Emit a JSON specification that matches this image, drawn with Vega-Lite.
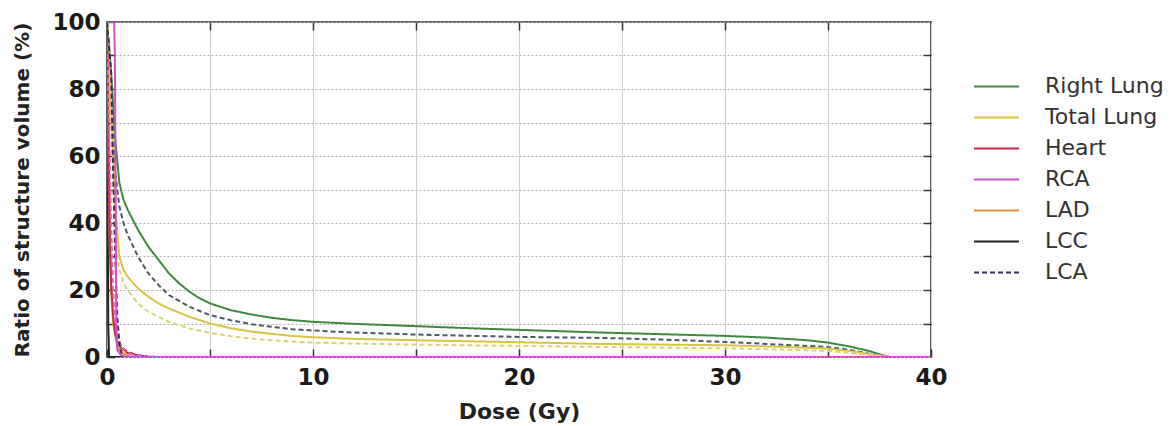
{
  "$schema": "https://vega.github.io/schema/vega-lite/v6.json",
  "autosize": {"type": "none"},
  "padding": {"left": 107, "top": 22, "right": 241, "bottom": 69},
  "width": 824,
  "height": 335,
  "background": "white",
  "config": {
    "font": "DejaVu Sans",
    "view": {"stroke": "#333", "strokeWidth": 1.6},
    "axis": {"domain": false, "labelFont": "DejaVu Sans", "titleFont": "DejaVu Sans"}
  },
  "data": {"values": [
    {"s":"RL","c":"Right Lung","d":"solid","x":0,"y":100},{"s":"RL","c":"Right Lung","d":"solid","x":0.2,"y":85},{"s":"RL","c":"Right Lung","d":"solid","x":0.4,"y":65},{"s":"RL","c":"Right Lung","d":"solid","x":0.6,"y":52},{"s":"RL","c":"Right Lung","d":"solid","x":0.8,"y":47},{"s":"RL","c":"Right Lung","d":"solid","x":1,"y":44},{"s":"RL","c":"Right Lung","d":"solid","x":1.5,"y":38},{"s":"RL","c":"Right Lung","d":"solid","x":2,"y":33},{"s":"RL","c":"Right Lung","d":"solid","x":2.5,"y":29},{"s":"RL","c":"Right Lung","d":"solid","x":3,"y":25},{"s":"RL","c":"Right Lung","d":"solid","x":3.5,"y":22},{"s":"RL","c":"Right Lung","d":"solid","x":4,"y":19.5},{"s":"RL","c":"Right Lung","d":"solid","x":4.5,"y":17.5},{"s":"RL","c":"Right Lung","d":"solid","x":5,"y":16},{"s":"RL","c":"Right Lung","d":"solid","x":6,"y":14},{"s":"RL","c":"Right Lung","d":"solid","x":7,"y":12.7},{"s":"RL","c":"Right Lung","d":"solid","x":8,"y":11.7},{"s":"RL","c":"Right Lung","d":"solid","x":9,"y":11},{"s":"RL","c":"Right Lung","d":"solid","x":10,"y":10.5},{"s":"RL","c":"Right Lung","d":"solid","x":12,"y":9.9},{"s":"RL","c":"Right Lung","d":"solid","x":15,"y":9.2},{"s":"RL","c":"Right Lung","d":"solid","x":18,"y":8.5},{"s":"RL","c":"Right Lung","d":"solid","x":20,"y":8.1},{"s":"RL","c":"Right Lung","d":"solid","x":24,"y":7.3},{"s":"RL","c":"Right Lung","d":"solid","x":27,"y":6.8},{"s":"RL","c":"Right Lung","d":"solid","x":30,"y":6.3},{"s":"RL","c":"Right Lung","d":"solid","x":32,"y":5.8},{"s":"RL","c":"Right Lung","d":"solid","x":34,"y":5},{"s":"RL","c":"Right Lung","d":"solid","x":35,"y":4.3},{"s":"RL","c":"Right Lung","d":"solid","x":36,"y":3.2},{"s":"RL","c":"Right Lung","d":"solid","x":37,"y":1.8},{"s":"RL","c":"Right Lung","d":"solid","x":37.5,"y":0.8},{"s":"RL","c":"Right Lung","d":"solid","x":38,"y":0},{"s":"RL","c":"Right Lung","d":"solid","x":40,"y":0},
    {"s":"RL2","c":"Right Lung 2","d":"dash","x":0,"y":100},{"s":"RL2","c":"Right Lung 2","d":"dash","x":0.2,"y":80},{"s":"RL2","c":"Right Lung 2","d":"dash","x":0.4,"y":55},{"s":"RL2","c":"Right Lung 2","d":"dash","x":0.6,"y":45},{"s":"RL2","c":"Right Lung 2","d":"dash","x":0.8,"y":40},{"s":"RL2","c":"Right Lung 2","d":"dash","x":1,"y":36.5},{"s":"RL2","c":"Right Lung 2","d":"dash","x":1.5,"y":30},{"s":"RL2","c":"Right Lung 2","d":"dash","x":2,"y":25},{"s":"RL2","c":"Right Lung 2","d":"dash","x":2.5,"y":21.5},{"s":"RL2","c":"Right Lung 2","d":"dash","x":3,"y":18.5},{"s":"RL2","c":"Right Lung 2","d":"dash","x":4,"y":15},{"s":"RL2","c":"Right Lung 2","d":"dash","x":5,"y":12.5},{"s":"RL2","c":"Right Lung 2","d":"dash","x":6,"y":11},{"s":"RL2","c":"Right Lung 2","d":"dash","x":7,"y":9.8},{"s":"RL2","c":"Right Lung 2","d":"dash","x":8,"y":9},{"s":"RL2","c":"Right Lung 2","d":"dash","x":9,"y":8.3},{"s":"RL2","c":"Right Lung 2","d":"dash","x":10,"y":7.9},{"s":"RL2","c":"Right Lung 2","d":"dash","x":12,"y":7.3},{"s":"RL2","c":"Right Lung 2","d":"dash","x":15,"y":6.7},{"s":"RL2","c":"Right Lung 2","d":"dash","x":20,"y":6},{"s":"RL2","c":"Right Lung 2","d":"dash","x":24,"y":5.7},{"s":"RL2","c":"Right Lung 2","d":"dash","x":27,"y":5.2},{"s":"RL2","c":"Right Lung 2","d":"dash","x":30,"y":4.5},{"s":"RL2","c":"Right Lung 2","d":"dash","x":33,"y":3.6},{"s":"RL2","c":"Right Lung 2","d":"dash","x":35,"y":3},{"s":"RL2","c":"Right Lung 2","d":"dash","x":36,"y":2.2},{"s":"RL2","c":"Right Lung 2","d":"dash","x":37,"y":1},{"s":"RL2","c":"Right Lung 2","d":"dash","x":38,"y":0},{"s":"RL2","c":"Right Lung 2","d":"dash","x":40,"y":0},
    {"s":"TL","c":"Total Lung","d":"solid","x":0,"y":100},{"s":"TL","c":"Total Lung","d":"solid","x":0.2,"y":75},{"s":"TL","c":"Total Lung","d":"solid","x":0.4,"y":45},{"s":"TL","c":"Total Lung","d":"solid","x":0.6,"y":30},{"s":"TL","c":"Total Lung","d":"solid","x":0.8,"y":26},{"s":"TL","c":"Total Lung","d":"solid","x":1,"y":24},{"s":"TL","c":"Total Lung","d":"solid","x":1.5,"y":20.5},{"s":"TL","c":"Total Lung","d":"solid","x":2,"y":18},{"s":"TL","c":"Total Lung","d":"solid","x":2.5,"y":16},{"s":"TL","c":"Total Lung","d":"solid","x":3,"y":14.5},{"s":"TL","c":"Total Lung","d":"solid","x":4,"y":12},{"s":"TL","c":"Total Lung","d":"solid","x":5,"y":10},{"s":"TL","c":"Total Lung","d":"solid","x":6,"y":8.6},{"s":"TL","c":"Total Lung","d":"solid","x":7,"y":7.6},{"s":"TL","c":"Total Lung","d":"solid","x":8,"y":6.9},{"s":"TL","c":"Total Lung","d":"solid","x":9,"y":6.3},{"s":"TL","c":"Total Lung","d":"solid","x":10,"y":5.9},{"s":"TL","c":"Total Lung","d":"solid","x":12,"y":5.4},{"s":"TL","c":"Total Lung","d":"solid","x":15,"y":5},{"s":"TL","c":"Total Lung","d":"solid","x":20,"y":4.4},{"s":"TL","c":"Total Lung","d":"solid","x":24,"y":3.9},{"s":"TL","c":"Total Lung","d":"solid","x":30,"y":3.5},{"s":"TL","c":"Total Lung","d":"solid","x":33,"y":3},{"s":"TL","c":"Total Lung","d":"solid","x":35,"y":2.5},{"s":"TL","c":"Total Lung","d":"solid","x":36,"y":1.8},{"s":"TL","c":"Total Lung","d":"solid","x":37,"y":0.9},{"s":"TL","c":"Total Lung","d":"solid","x":38,"y":0},{"s":"TL","c":"Total Lung","d":"solid","x":40,"y":0},
    {"s":"TL2","c":"Total Lung 2","d":"dash","x":0,"y":100},{"s":"TL2","c":"Total Lung 2","d":"dash","x":0.2,"y":70},{"s":"TL2","c":"Total Lung 2","d":"dash","x":0.4,"y":38},{"s":"TL2","c":"Total Lung 2","d":"dash","x":0.6,"y":26},{"s":"TL2","c":"Total Lung 2","d":"dash","x":0.8,"y":22},{"s":"TL2","c":"Total Lung 2","d":"dash","x":1,"y":20},{"s":"TL2","c":"Total Lung 2","d":"dash","x":1.5,"y":16},{"s":"TL2","c":"Total Lung 2","d":"dash","x":2,"y":13.5},{"s":"TL2","c":"Total Lung 2","d":"dash","x":2.5,"y":12},{"s":"TL2","c":"Total Lung 2","d":"dash","x":3,"y":10.5},{"s":"TL2","c":"Total Lung 2","d":"dash","x":4,"y":8.5},{"s":"TL2","c":"Total Lung 2","d":"dash","x":5,"y":7.2},{"s":"TL2","c":"Total Lung 2","d":"dash","x":6,"y":6.2},{"s":"TL2","c":"Total Lung 2","d":"dash","x":7,"y":5.5},{"s":"TL2","c":"Total Lung 2","d":"dash","x":8,"y":5},{"s":"TL2","c":"Total Lung 2","d":"dash","x":9,"y":4.6},{"s":"TL2","c":"Total Lung 2","d":"dash","x":10,"y":4.3},{"s":"TL2","c":"Total Lung 2","d":"dash","x":12,"y":4},{"s":"TL2","c":"Total Lung 2","d":"dash","x":15,"y":3.7},{"s":"TL2","c":"Total Lung 2","d":"dash","x":20,"y":3.3},{"s":"TL2","c":"Total Lung 2","d":"dash","x":24,"y":3},{"s":"TL2","c":"Total Lung 2","d":"dash","x":30,"y":2.6},{"s":"TL2","c":"Total Lung 2","d":"dash","x":33,"y":2.2},{"s":"TL2","c":"Total Lung 2","d":"dash","x":35,"y":1.8},{"s":"TL2","c":"Total Lung 2","d":"dash","x":36,"y":1.3},{"s":"TL2","c":"Total Lung 2","d":"dash","x":37,"y":0.6},{"s":"TL2","c":"Total Lung 2","d":"dash","x":38,"y":0},{"s":"TL2","c":"Total Lung 2","d":"dash","x":40,"y":0},
    {"s":"LCC","c":"LCC","d":"solid","x":0,"y":100},{"s":"LCC","c":"LCC","d":"solid","x":0.03,"y":50},{"s":"LCC","c":"LCC","d":"solid","x":0.06,"y":10},{"s":"LCC","c":"LCC","d":"solid","x":0.1,"y":0},{"s":"LCC","c":"LCC","d":"solid","x":2,"y":0},
    {"s":"LAD","c":"LAD","d":"solid","x":0,"y":100},{"s":"LAD","c":"LAD","d":"solid","x":0.05,"y":70},{"s":"LAD","c":"LAD","d":"solid","x":0.1,"y":45},{"s":"LAD","c":"LAD","d":"solid","x":0.15,"y":30},{"s":"LAD","c":"LAD","d":"solid","x":0.2,"y":20},{"s":"LAD","c":"LAD","d":"solid","x":0.3,"y":10},{"s":"LAD","c":"LAD","d":"solid","x":0.5,"y":3},{"s":"LAD","c":"LAD","d":"solid","x":0.8,"y":1},{"s":"LAD","c":"LAD","d":"solid","x":1.2,"y":0},{"s":"LAD","c":"LAD","d":"solid","x":3,"y":0},
    {"s":"H2","c":"Heart 2","d":"dash","x":0,"y":100},{"s":"H2","c":"Heart 2","d":"dash","x":0.05,"y":75},{"s":"H2","c":"Heart 2","d":"dash","x":0.1,"y":45},{"s":"H2","c":"Heart 2","d":"dash","x":0.2,"y":25},{"s":"H2","c":"Heart 2","d":"dash","x":0.3,"y":15},{"s":"H2","c":"Heart 2","d":"dash","x":0.4,"y":9},{"s":"H2","c":"Heart 2","d":"dash","x":0.5,"y":6},{"s":"H2","c":"Heart 2","d":"dash","x":0.7,"y":3},{"s":"H2","c":"Heart 2","d":"dash","x":1,"y":1.5},{"s":"H2","c":"Heart 2","d":"dash","x":1.5,"y":0.5},{"s":"H2","c":"Heart 2","d":"dash","x":2,"y":0},{"s":"H2","c":"Heart 2","d":"dash","x":3,"y":0},
    {"s":"H","c":"Heart","d":"solid","x":0,"y":100},{"s":"H","c":"Heart","d":"solid","x":0.05,"y":80},{"s":"H","c":"Heart","d":"solid","x":0.1,"y":55},{"s":"H","c":"Heart","d":"solid","x":0.15,"y":35},{"s":"H","c":"Heart","d":"solid","x":0.2,"y":22},{"s":"H","c":"Heart","d":"solid","x":0.3,"y":12},{"s":"H","c":"Heart","d":"solid","x":0.4,"y":7},{"s":"H","c":"Heart","d":"solid","x":0.5,"y":4.5},{"s":"H","c":"Heart","d":"solid","x":0.7,"y":2.5},{"s":"H","c":"Heart","d":"solid","x":1,"y":1.2},{"s":"H","c":"Heart","d":"solid","x":1.5,"y":0.5},{"s":"H","c":"Heart","d":"solid","x":2,"y":0.1},{"s":"H","c":"Heart","d":"solid","x":2.5,"y":0},{"s":"H","c":"Heart","d":"solid","x":4,"y":0},
    {"s":"R2","c":"RCA 2","d":"dash","x":0,"y":100},{"s":"R2","c":"RCA 2","d":"dash","x":0.1,"y":70},{"s":"R2","c":"RCA 2","d":"dash","x":0.2,"y":40},{"s":"R2","c":"RCA 2","d":"dash","x":0.3,"y":20},{"s":"R2","c":"RCA 2","d":"dash","x":0.4,"y":10},{"s":"R2","c":"RCA 2","d":"dash","x":0.6,"y":4},{"s":"R2","c":"RCA 2","d":"dash","x":0.9,"y":1.5},{"s":"R2","c":"RCA 2","d":"dash","x":1.3,"y":0.5},{"s":"R2","c":"RCA 2","d":"dash","x":2,"y":0},
    {"s":"LCA","c":"LCA","d":"dash","x":0,"y":100},{"s":"LCA","c":"LCA","d":"dash","x":0.2,"y":85},{"s":"LCA","c":"LCA","d":"dash","x":0.3,"y":55},{"s":"LCA","c":"LCA","d":"dash","x":0.4,"y":30},{"s":"LCA","c":"LCA","d":"dash","x":0.5,"y":12},{"s":"LCA","c":"LCA","d":"dash","x":0.6,"y":4},{"s":"LCA","c":"LCA","d":"dash","x":0.7,"y":0.5},{"s":"LCA","c":"LCA","d":"dash","x":0.8,"y":0},{"s":"LCA","c":"LCA","d":"dash","x":1.5,"y":0},
    {"s":"RCA","c":"RCA","d":"solid","x":0,"y":100},{"s":"RCA","c":"RCA","d":"solid","x":0.35,"y":100},{"s":"RCA","c":"RCA","d":"solid","x":0.38,"y":90},{"s":"RCA","c":"RCA","d":"solid","x":0.42,"y":50},{"s":"RCA","c":"RCA","d":"solid","x":0.45,"y":10},{"s":"RCA","c":"RCA","d":"solid","x":0.5,"y":2},{"s":"RCA","c":"RCA","d":"solid","x":0.7,"y":0.5},{"s":"RCA","c":"RCA","d":"solid","x":1,"y":0},{"s":"RCA","c":"RCA","d":"solid","x":40,"y":0}
  ]},
  "layer": [
    {
      "mark": {"type": "line", "strokeWidth": 2, "clip": true},
      "encoding": {
        "x": {
          "field": "x", "type": "quantitative",
          "scale": {"domain": [0, 40], "nice": false},
          "axis": {
            "values": [0, 5, 10, 15, 20, 25, 30, 35, 40],
            "labelExpr": "datum.value % 10 === 0 ? datum.label : ''",
            "title": "Dose (Gy)",
            "labelFontSize": 23, "labelFontWeight": "bold", "labelColor": "#1a1a1a",
            "labelPadding": 17, "labelFlush": false,
            "ticks": true, "tickSize": -8, "tickColor": "#333", "tickWidth": 1.5,
            "titleFontSize": 22, "titleFontWeight": "bold", "titleColor": "#222", "titlePadding": 12,
            "gridColor": "#cfcfcf", "gridWidth": 1
          }
        },
        "y": {
          "field": "y", "type": "quantitative",
          "scale": {"domain": [0, 100], "nice": false},
          "axis": {
            "values": [0, 10, 20, 30, 40, 50, 60, 70, 80, 90, 100],
            "labelExpr": "datum.value % 20 === 0 ? datum.label : ''",
            "title": "Ratio of structure volume (%)",
            "labelFontSize": 23, "labelFontWeight": "bold", "labelColor": "#1a1a1a",
            "labelPadding": 15, "labelFlush": false,
            "ticks": true, "tickSize": -8, "tickColor": "#333", "tickWidth": 1.5,
            "titleFontSize": 20, "titleFontWeight": "bold", "titleColor": "#222", "titlePadding": 19,
            "gridColor": "#b5b5b5", "gridDash": [2, 2], "gridWidth": 1
          }
        },
        "detail": {"field": "s"},
        "color": {
          "field": "c", "type": "nominal",
          "scale": {
            "domain": ["Right Lung", "Total Lung", "Heart", "RCA", "LAD", "LCC", "LCA", "Right Lung 2", "Total Lung 2", "Heart 2", "RCA 2"],
            "range": ["#3d8a3d", "#d8c443", "#c42a48", "#cf4fcf", "#e3913f", "#222222", "#2e3550", "#4b5a66", "#d9d27a", "#c0245a", "#e070b4"]
          },
          "legend": {
            "values": ["Right Lung", "Total Lung", "Heart", "RCA", "LAD", "LCC", "LCA"],
            "title": null,
            "orient": "none", "legendX": 866, "legendY": 49,
            "padding": 0,
            "symbolType": "stroke", "symbolSize": 2025, "symbolStrokeWidth": 2,
            "labelFontSize": 22, "labelColor": "#333", "labelFont": "DejaVu Sans",
            "labelOffset": 25, "clipHeight": 30.8, "rowPadding": 0,
            "encode": {"symbols": {"update": {"strokeDash": {"signal": "datum.value === 'LCA' ? [5, 3] : [1, 0]"}}}}
          }
        },
        "strokeDash": {
          "field": "d", "type": "nominal",
          "scale": {"domain": ["solid", "dash"], "range": [[1, 0], [5, 3]]},
          "legend": null
        }
      }
    },
    {
      "mark": {"type": "line", "opacity": 0},
      "encoding": {
        "x": {
          "field": "x", "type": "quantitative",
          "axis": {"orient": "top", "values": [5, 10, 15, 20, 25, 30, 35], "labels": false, "title": null, "grid": false, "ticks": true, "tickSize": -8, "tickColor": "#333", "tickWidth": 1.5}
        },
        "y": {
          "field": "y", "type": "quantitative",
          "axis": {"orient": "right", "values": [10, 20, 30, 40, 50, 60, 70, 80, 90], "labels": false, "title": null, "grid": false, "ticks": true, "tickSize": -8, "tickColor": "#333", "tickWidth": 1.5}
        },
        "detail": {"field": "s"}
      }
    }
  ],
  "resolve": {"axis": {"x": "independent", "y": "independent"}}
}
